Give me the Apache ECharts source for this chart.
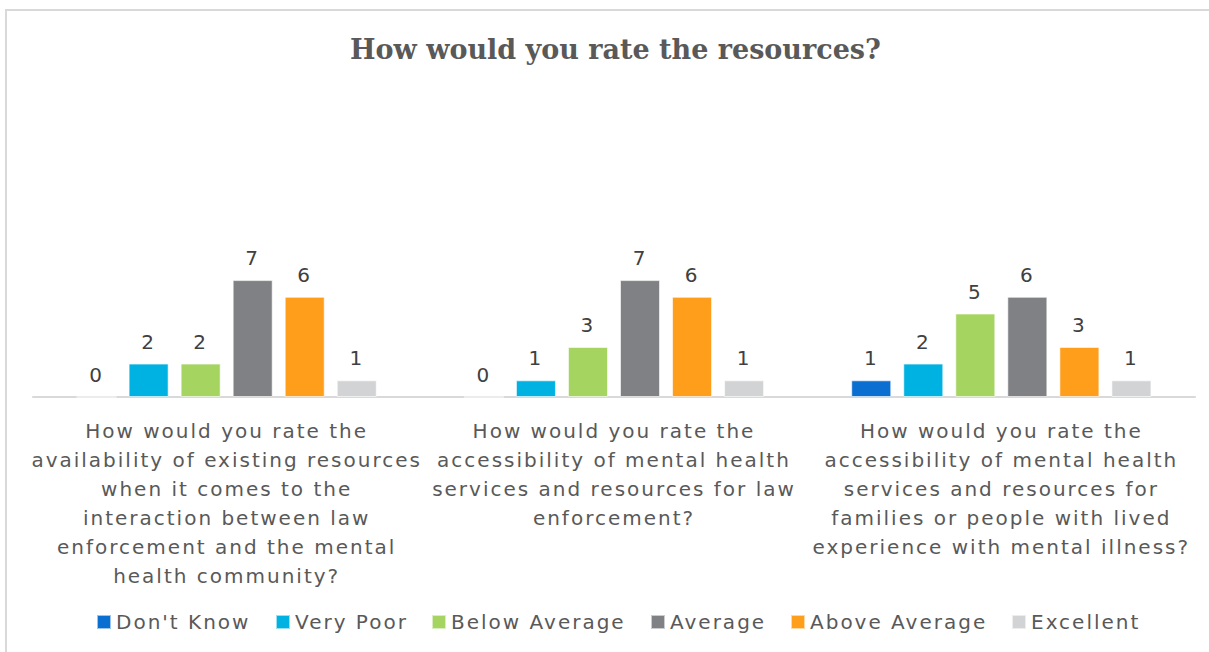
<!DOCTYPE html>
<html>
<head>
<meta charset="utf-8">
<script src="https://cdn.jsdelivr.net/npm/echarts@6/dist/echarts.min.js"></script>
<style>
    html, body { margin: 0; padding: 0; background: #fff; }
    #chart { width: 1209px; height: 652px; }
    /* Excel 的文字字距较宽 */
    #chart text { letter-spacing: 2px; }
    #chart text[style*="Serif"], #chart text[font-family*="Serif"] { letter-spacing: 0; }
</style>
</head>
<body>
<div id="chart"></div>
<script>
    //  数据
    var categories = [
        'How would you rate the\navailability of existing resources\nwhen it comes to the\ninteraction between law\nenforcement and the mental\nhealth community?',
        'How would you rate the\naccessibility of mental health\nservices and resources for law\nenforcement?',
        'How would you rate the\naccessibility of mental health\nservices and resources for\nfamilies or people with lived\nexperience with mental illness?'
    ];
    var seriesNames = ['Don\'t Know', 'Very Poor', 'Below Average', 'Average', 'Above Average', 'Excellent'];
    var dontKnow = [0, 0, 1];
    var veryPoor = [2, 1, 2];
    var belowAverage = [2, 3, 5];
    var average = [7, 7, 6];
    var aboveAverage = [6, 6, 3];
    var excellent = [1, 1, 1];
    var colors = ['#0a6fd0', '#00b2e2', '#a5d460', '#808184', '#ff9e1b', '#d2d3d5'];

    var sansFont = '"DejaVu Sans", Verdana, sans-serif';
    var spacing = 2;

    //  图例：每项单独放，宽度算上字距
    var measureCtx = document.createElement('canvas').getContext('2d');
    measureCtx.font = '20px "DejaVu Sans"';
    var iconSize = 14, textGap = 5, itemGap = 25;
    var itemWidths = seriesNames.map(function (name) {
        return iconSize + textGap + measureCtx.measureText(name).width + name.length * spacing;
    });
    var totalWidth = itemWidths.reduce(function (a, b) { return a + b; }, 0) + itemGap * (seriesNames.length - 1);
    var legendX = 618 - totalWidth / 2;
    var legends = seriesNames.map(function (name, i) {
        var lg = {
            data: [name],
            left: Math.round(legendX),
            top: 612,
            padding: 0,
            itemWidth: iconSize,
            itemHeight: iconSize,
            icon: 'rect',
            textStyle: {
                color: '#595959',
                fontFamily: sansFont,
                fontSize: 20
            }
        };
        legendX += itemWidths[i] + itemGap;
        return lg;
    });

    var values = [dontKnow, veryPoor, belowAverage, average, aboveAverage, excellent];
    var series = seriesNames.map(function (name, i) {
        return {
            name: name,
            type: 'bar',
            data: values[i],
            barGap: '30%',
            barCategoryGap: '22.5%',
            itemStyle: {
                color: colors[i],
                borderColor: 'rgba(255,255,255,0.6)',
                borderWidth: 1
            },
            label: {
                show: true,
                position: 'top',
                distance: 12,
                color: '#404040',
                fontFamily: sansFont,
                fontSize: 20
            }
        };
    });

    var chart = echarts.init(document.getElementById('chart'), null, { renderer: 'svg' });
    var option = {
        animation: false,
        backgroundColor: '#fff',
        title: {
            text: 'How would you rate the resources?',
            left: 345,
            top: 31,
            textStyle: {
                fontFamily: '"DejaVu Serif", serif',
                fontWeight: 'bold',
                fontSize: 27,
                color: '#595959'
            }
        },
        graphic: [{
            type: 'rect',
            shape: { x: 6, y: 10, width: 1230, height: 700 },
            style: { fill: 'none', stroke: '#d9d9d9', lineWidth: 2 },
            silent: true
        }],
        legend: legends,
        grid: {
            left: 33,
            right: 14,
            top: 230,
            bottom: 255,
            containLabel: false
        },
        xAxis: {
            type: 'category',
            data: categories,
            axisTick: { show: false },
            axisLine: { lineStyle: { color: '#d9d9d9', width: 2 } },
            axisLabel: {
                interval: 0,
                margin: 19,
                color: '#595959',
                fontFamily: sansFont,
                fontSize: 20,
                lineHeight: 29,
                align: 'center'
            }
        },
        yAxis: {
            type: 'value',
            min: 0,
            max: 10,
            show: false
        },
        series: series
    };
    chart.setOption(option);
</script>
</body>
</html>
